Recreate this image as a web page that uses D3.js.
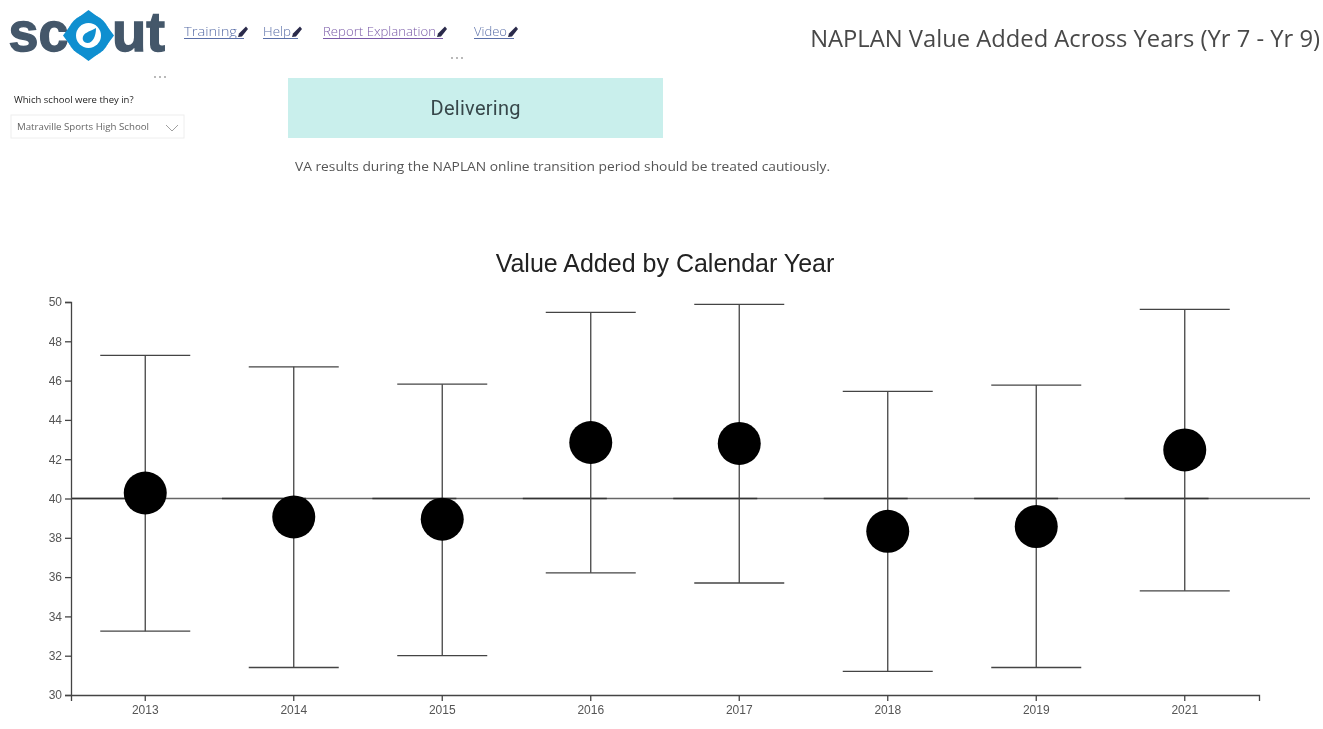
<!DOCTYPE html>
<html><head><meta charset="utf-8">
<script src="https://cdn.jsdelivr.net/npm/d3@7/dist/d3.min.js"></script>
<style>
html,body{margin:0;padding:0;background:#fff;overflow:hidden}
svg{display:block;filter:blur(0.45px)}
</style></head><body>
<svg id="c" width="1323" height="729"></svg>
<script>
const years=["2013","2014","2015","2016","2017","2018","2019","2021"];
const means=[40.28,39.06,38.95,42.85,42.8,38.33,38.57,42.47];
const highs=[47.28,46.7,45.82,49.47,49.88,45.45,45.77,49.62];
const lows=[33.25,31.4,32,36.22,35.7,31.2,31.4,35.3];
const benchmark=40;
const yTicks=d3.range(30,51,2);
const links=[["Training",184,"#5a6fa8",53],["Help",263,"#5a6fa8",28],["Report Explanation",323,"#7a5aa8",113],["Video",474,"#5a6fa8",33]];

const svg=d3.select("#c");
const sans="'Open Sans',sans-serif", din="Roboto,sans-serif", arial="'Liberation Sans',Arial,sans-serif";

// Logo
const logo=svg.append("g");
logo.append("text").attr("x",8.5).attr("y",51).attr("font-family",arial).attr("font-weight",700).attr("font-size",56).attr("fill","#44576a").attr("stroke","#44576a").attr("stroke-width",1.4).attr("textLength",60).attr("lengthAdjust","spacingAndGlyphs").text("sc");
logo.append("text").attr("x",112).attr("y",51).attr("font-family",arial).attr("font-weight",700).attr("font-size",56).attr("fill","#44576a").attr("stroke","#44576a").attr("stroke-width",1.4).attr("textLength",53).attr("lengthAdjust","spacingAndGlyphs").text("ut");
logo.append("circle").attr("cx",88.5).attr("cy",35.5).attr("r",21).attr("fill","#0f8fd0");
logo.append("path").attr("d","M88.5 10 L98 17 L79 17 Z M88.5 61 L98 54 L79 54 Z M63 35.5 L70 26 L70 45 Z M114 35.5 L107 26 L107 45 Z").attr("fill","#0f8fd0");
logo.append("circle").attr("cx",88.5).attr("cy",35.5).attr("r",12.5).attr("fill","#fff");
logo.append("path").attr("d","M96 28 C96 36 93 43 87.5 43 C83.5 43 81.5 39 83.5 35.5 C85.5 32 91 31 96 28 Z").attr("fill","#0f8fd0");

// Links
links.forEach(([t,x,col,w])=>{
  svg.append("text").attr("x",x).attr("y",36).attr("font-family",sans).attr("font-weight",300).attr("font-size",13).attr("fill",col).attr("textLength",w).attr("lengthAdjust","spacingAndGlyphs").text(t);
  svg.append("line").attr("x1",x).attr("x2",x+w+7).attr("y1",38.5).attr("y2",38.5).attr("stroke",col).attr("stroke-width",1);
  const px=x+w+1;
  svg.append("path").attr("d",`M${px} 37 L${px+4} 36.5 L${px+10} 29 L${px+8} 26.5 L${px+1} 33.5 Z`).attr("fill","#2a2a4a");
});

// Page title
svg.append("text").attr("x",1320).attr("y",47).attr("text-anchor","end").attr("font-family",sans).attr("font-weight",400).attr("font-size",23.75).attr("fill","#484848").text("NAPLAN Value Added Across Years (Yr 7 - Yr 9)");

// Ellipses
[[160,77],[457,58]].forEach(([x,y])=>[-5,0,5].forEach(d=>svg.append("circle").attr("cx",x+d).attr("cy",y).attr("r",0.9).attr("fill","#999")));

// Slicer
svg.append("text").attr("x",14).attr("y",103).attr("font-family",sans).attr("font-size",9.5).attr("fill","#222").text("Which school were they in?");
svg.append("rect").attr("x",11).attr("y",115).attr("width",173).attr("height",23).attr("fill","#fff").attr("stroke","#eee");
svg.append("text").attr("x",17).attr("y",130).attr("font-family",sans).attr("font-size",9.5).attr("fill","#666").attr("textLength",132).attr("lengthAdjust","spacingAndGlyphs").text("Matraville Sports High School");
svg.append("path").attr("d","M166 125 L172 131 L178 125").attr("fill","none").attr("stroke","#888").attr("stroke-width",0.8);

// Banner
svg.append("rect").attr("x",288).attr("y",78).attr("width",375).attr("height",60).attr("fill","#c9efec");
svg.append("text").attr("x",475.5).attr("y",115).attr("text-anchor","middle").attr("font-family",din).attr("font-size",20).attr("fill","#37474a").attr("textLength",90).text("Delivering");
svg.append("text").attr("x",295).attr("y",171).attr("font-family",sans).attr("font-size",13.5).attr("fill","#555").attr("textLength",535).attr("lengthAdjust","spacingAndGlyphs").text("VA results during the NAPLAN online transition period should be treated cautiously.");

// Chart
svg.append("text").attr("x",665).attr("y",272).attr("text-anchor","middle").attr("font-family",arial).attr("font-size",25).attr("fill","#222").text("Value Added by Calendar Year");

const x=d3.scaleBand().domain(years).range([71,1259]);
const y=d3.scaleLinear().domain([30,50]).range([695,302]);
const segX=d3.scaleLinear().domain([0,8]).range([71.5,1275]);
const cx=d=>x(d)+x.bandwidth()/2;
const capHalf=45, segLen=84, radius=21.5;

const g=svg.append("g");
const yAxis=g.append("g").attr("transform","translate(71,0)").call(d3.axisLeft(y).tickValues(yTicks).tickSize(6).tickPadding(3));
const xAxis=g.append("g").attr("transform","translate(0,695)").call(d3.axisBottom(x).tickSize(6).tickPadding(4));
[yAxis,xAxis].forEach(a=>{a.selectAll("text").attr("font-family",arial).attr("font-size",12).attr("fill","#555");
  a.selectAll("path,line").attr("stroke","#444").attr("stroke-width",1.3);});

// reference line
g.append("line").attr("x1",71).attr("x2",1310).attr("y1",y(benchmark)).attr("y2",y(benchmark)).attr("stroke","#666").attr("stroke-width",1.3);
g.selectAll(".seg").data(years).join("line").attr("x1",(d,i)=>segX(i)).attr("x2",(d,i)=>segX(i)+segLen)
 .attr("y1",y(benchmark)).attr("y2",y(benchmark)).attr("stroke","#333").attr("stroke-width",1.3);

years.forEach((yr,i)=>{
  const c=cx(yr);
  const gp=g.append("g").attr("stroke","#444").attr("stroke-width",1.3);
  gp.append("line").attr("x1",c).attr("x2",c).attr("y1",y(highs[i])).attr("y2",y(lows[i]));
  gp.append("line").attr("x1",c-capHalf).attr("x2",c+capHalf).attr("y1",y(highs[i])).attr("y2",y(highs[i]));
  gp.append("line").attr("x1",c-capHalf).attr("x2",c+capHalf).attr("y1",y(lows[i])).attr("y2",y(lows[i]));
  g.append("circle").attr("cx",c).attr("cy",y(means[i])).attr("r",radius).attr("fill","#000");
});
</script></body></html>
